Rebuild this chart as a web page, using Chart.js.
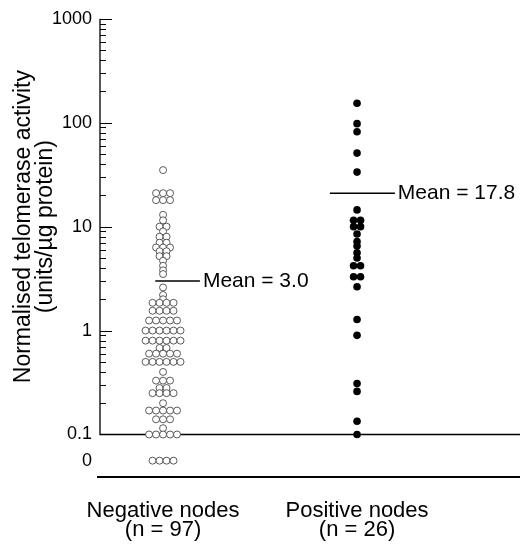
<!DOCTYPE html>
<html>
<head>
<meta charset="utf-8">
<script src="https://cdn.jsdelivr.net/npm/chart.js@4.4.1/dist/chart.umd.min.js"></script>
<style>
    html, body { margin: 0; padding: 0; background: #fff; }
    #wrap { width: 526px; height: 544px; }
</style>
</head>
<body>
<div id="wrap"><canvas id="myChart"></canvas></div>
<script>
// data
const groups = ["Negative nodes", "Positive nodes"];
const groupCounts = ["(n = 97)", "(n = 26)"];
const negativeValues = [
    35,
    21, 21, 21, 18, 18, 18,
    13, 11.5, 10, 10, 9, 8, 8, 7, 7, 6.3, 6.3, 6.3, 5.8, 5.8, 5.2, 5.2, 4.7, 4.2, 3.8, 3.5,
    2.6, 2.2, 2.0,
    1.85, 1.85, 1.85, 1.85,
    1.55, 1.55, 1.55, 1.55,
    1.25, 1.25, 1.25, 1.25, 1.25,
    1, 1, 1, 1, 1, 1,
    0.8, 0.8, 0.8, 0.8, 0.8, 0.8,
    0.68, 0.68,
    0.6, 0.6, 0.6, 0.6, 0.6,
    0.5, 0.5, 0.5, 0.5, 0.5, 0.5,
    0.4,
    0.33, 0.33, 0.33,
    0.28, 0.28,
    0.25, 0.25, 0.25, 0.25,
    0.2,
    0.17, 0.17, 0.17, 0.17, 0.17,
    0.14, 0.14, 0.14,
    0.115,
    0.1, 0.1, 0.1, 0.1, 0.1,
    0, 0, 0, 0,
];
const positiveValues = [
    154, 98, 82, 51, 33.5,
    14.5, 11.5, 11.5, 10, 10, 8.5, 7.2, 6.5, 5.6, 5.0,
    4.2, 4.2, 3.3, 3.3, 2.64, 1.28, 0.9, 0.31, 0.26, 0.134, 0.1,
];
const meanLabels = ["Mean = 3.0", "Mean = 17.8"];
// where the mean bars are drawn in the figure
const meanLineValues = [3.0, 21];
const yTickValues = [0, 0.1, 1, 10, 100, 1000];
const yTickLabels = ["0", "0.1", "1", "10", "100", "1000"];

// layout helpers (not data)
const ZERO_POS = 0.056;   // where "0" sits below the log range
const GROUP_X = [1, 3];
const DX = 0.072;
const MEAN_SPAN = [[0.92, 1.38], [2.72, 3.39]];
const FONT = "'Liberation Sans', Arial, sans-serif";

function swarm(values, cx) {
    const rows = new Map();
    values.forEach((v) => rows.set(v, (rows.get(v) || 0) + 1));
    const pts = [];
    rows.forEach((k, v) => {
        for (let i = 0; i < k; i++) {
            pts.push({ x: cx + (i - (k - 1) / 2) * DX, y: v === 0 ? ZERO_POS : v });
        }
    });
    return pts;
}

const decor = {
    id: "decor",
    beforeDatasetsDraw(chart) {
        const { ctx, chartArea, scales: { y } } = chart;
        const yTop = y.getPixelForValue(1000);
        const yBase = y.getPixelForValue(0.1);
        ctx.save();
        ctx.strokeStyle = "#000";
        ctx.lineWidth = 1.3;
        ctx.beginPath();
        ctx.moveTo(chartArea.left, yTop);
        ctx.lineTo(chartArea.left, yBase);
        ctx.lineTo(chartArea.right, yBase);
        ctx.stroke();
        ctx.lineWidth = 2;
        ctx.beginPath();
        ctx.moveTo(chartArea.left - 3, chartArea.bottom);
        ctx.lineTo(chartArea.right, chartArea.bottom);
        ctx.stroke();
        ctx.lineWidth = 1;
        [0.1, 1, 10, 100].forEach((b) => {
            for (let m = 2; m <= 10; m++) {
                const py = Math.round(y.getPixelForValue(m * b)) + 0.5;
                const len = m === 10 ? 12 : 6;
                ctx.beginPath();
                ctx.moveTo(chartArea.left, py);
                ctx.lineTo(chartArea.left + len, py);
                ctx.stroke();
            }
        });
        // axis title
        ctx.fillStyle = "#000";
        ctx.font = "23px " + FONT;
        ctx.textAlign = "center";
        ctx.textBaseline = "middle";
        ctx.translate(0, (yTop + yBase) / 2);
        ctx.rotate(-Math.PI / 2);
        ctx.fillText("Normalised telomerase activity", 0, 24);
        ctx.fillText("(units/\u00b5g protein)", 0, 46);
        ctx.restore();
    },
    afterDatasetsDraw(chart) {
        const { ctx } = chart;
        ctx.save();
        ctx.fillStyle = "#000";
        ctx.font = "21px " + FONT;
        ctx.textBaseline = "middle";
        meanLabels.forEach((txt, i) => {
            const meta = chart.getDatasetMeta(2 + i);
            const end = meta.data[1];
            ctx.fillText(txt, end.x + 3, end.y);
        });
        ctx.restore();
    },
};

new Chart(document.getElementById("myChart"), {
    type: "scatter",
    data: {
        datasets: [
            {
                label: groups[0],
                data: swarm(negativeValues, GROUP_X[0]),
                pointRadius: 3.5,
                pointBackgroundColor: "#fff",
                pointBorderColor: "#333",
                pointBorderWidth: 0.8,
            },
            {
                label: groups[1],
                data: swarm(positiveValues, GROUP_X[1]),
                pointRadius: 3.8,
                pointBackgroundColor: "#000",
                pointBorderColor: "#000",
                pointBorderWidth: 0,
            },
            ...meanLineValues.map((m, i) => ({
                type: "line",
                label: meanLabels[i],
                data: MEAN_SPAN[i].map((x) => ({ x, y: m })),
                borderColor: "#000",
                borderWidth: 1.5,
                pointRadius: 0,
            })),
        ],
    },
    options: {
        responsive: true,
        maintainAspectRatio: false,
        animation: false,
        layout: { padding: { top: 8, right: 6, left: 0, bottom: 0 } },
        plugins: { legend: { display: false }, tooltip: { enabled: false } },
        scales: {
            x: {
                type: "linear",
                min: 0.35,
                max: 4.68,
                grid: { display: false, drawTicks: false },
                border: { display: false },
                afterBuildTicks: (s) => { s.ticks = GROUP_X.map((v) => ({ value: v })); },
                afterFit: (s) => { s.height = 67; },
                ticks: {
                    padding: 24,
                    maxRotation: 0,
                    color: "#000",
                    font: { family: FONT, size: 22, lineHeight: 0.88 },
                    callback: (v, i) => [groups[i], groupCounts[i]],
                },
            },
            y: {
                type: "logarithmic",
                min: 0.039,
                max: 1000,
                grid: { display: false, drawTicks: false },
                border: { display: false },
                afterBuildTicks: (s) => {
                    s.ticks = yTickValues.map((v) => ({ value: v === 0 ? ZERO_POS : v }));
                },
                afterFit: (s) => { s.width = 100; },
                ticks: {
                    padding: 8,
                    color: "#000",
                    font: { family: FONT, size: 18 },
                    callback: (v, i) => yTickLabels[i],
                },
            },
        },
    },
    plugins: [decor],
});
</script>
</body>
</html>
